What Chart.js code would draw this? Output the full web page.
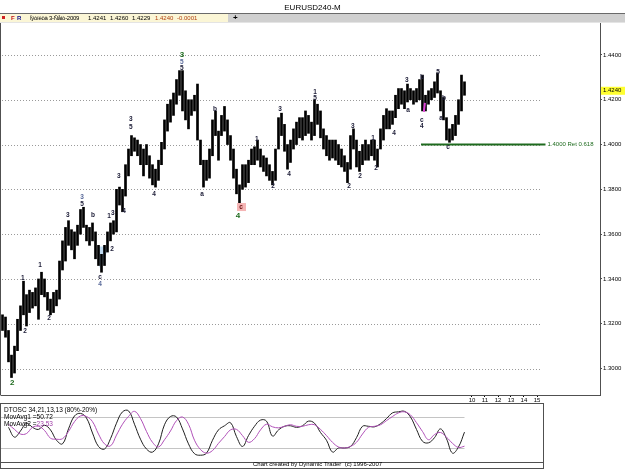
<!DOCTYPE html>
<html>
<head>
<meta charset="utf-8">
<script src="https://cdn.jsdelivr.net/npm/chart.js@4/dist/chart.umd.min.js"></script>
<style>
  body { margin: 0; width: 625px; height: 469px; overflow: hidden; position: relative; background: #fff;
         font-family: "Liberation Sans", Arial, sans-serif; }
  canvas { position: absolute; left: 0; }
  #main { top: 0; }
  #osc { top: 403px; }
  .t { position: absolute; white-space: nowrap; color: #000; }
  #title { left: 0; top: 3px; width: 625px; text-align: center; font-size: 8px; }
  #bar { position: absolute; left: 0; top: 13px; width: 625px; height: 8px; background: #d0d0d0;
         border-top: 1px solid #6a6a6a; border-bottom: 1px solid #e4e4e4; }
  #cream { position: absolute; left: 0; top: 0; width: 228px; height: 8px; background: #fbf6d6; }
  #bar .t { top: 0; font-size: 6px; line-height: 8px; }
  .leg { font-size: 6.5px; line-height: 7px; left: 4px; }
</style>
</head>
<body>
<canvas id="main" width="625" height="403"></canvas>
<canvas id="osc" width="545" height="66"></canvas>

<div class="t" id="title">EURUSD240-M</div>
<div id="bar">
  <div id="cream"></div>
  <div style="position:absolute;left:2px;top:2px;width:3px;height:3px;background:#d02020"></div>
  <span class="t" style="left:11px;color:#c01010;font-weight:bold">F</span>
  <span class="t" style="left:17px;color:#10108a;font-weight:bold">R</span>
  <span class="t" style="left:30px;letter-spacing:-0.3px">Ïÿòíèöà 3-Ñåíò-2009</span>
  <span class="t" style="left:88px">1.4241</span>
  <span class="t" style="left:110px">1.4260</span>
  <span class="t" style="left:132px">1.4229</span>
  <span class="t" style="left:155px;color:#b04010">1.4240</span>
  <span class="t" style="left:177px;color:#b04010">-0.0001</span>
  <span class="t" style="left:233px;font-weight:bold;font-size:8px">+</span>
</div>

<div class="t leg" style="top:406px">DTOSC 34,21,13,13 (80%-20%)</div>
<div class="t leg" style="top:413px">MovAvg1 =50.72</div>
<div class="t leg" style="top:420px">MovAvg2 =<span style="color:#a040a8">23.53</span></div>
<div class="t" style="left:253px;top:461px;font-size:6px">Chart created by Dynamic Trader&nbsp; (c) 1996-2007</div>

<script>
// 240-minute bars (one entry per ~3px column)
const barLows = [
  1.317, 1.314, 1.303, 1.296, 1.298, 1.308, 1.317, 1.324, 1.319, 1.325,
  1.327, 1.328, 1.322, 1.333, 1.332, 1.326, 1.324, 1.325, 1.328, 1.331,
  1.344, 1.348, 1.355, 1.353, 1.349, 1.355, 1.360, 1.363, 1.357, 1.355,
  1.357, 1.349, 1.346, 1.343, 1.346, 1.352, 1.357, 1.360, 1.361, 1.373,
  1.370, 1.377, 1.386, 1.395, 1.397, 1.395, 1.391, 1.386, 1.391, 1.385,
  1.382, 1.381, 1.384, 1.391, 1.398, 1.406, 1.410, 1.413, 1.418, 1.422,
  1.415, 1.411, 1.407, 1.413, 1.415, 1.402, 1.391, 1.381, 1.384, 1.385,
  1.395, 1.404, 1.393, 1.404, 1.406, 1.400, 1.393, 1.385, 1.378, 1.374,
  1.380, 1.381, 1.383, 1.391, 1.391, 1.393, 1.390, 1.388, 1.386, 1.384,
  1.382, 1.384, 1.398, 1.404, 1.397, 1.389, 1.392, 1.398, 1.400, 1.403,
  1.402, 1.404, 1.405, 1.402, 1.404, 1.409, 1.403, 1.398, 1.395, 1.393,
  1.394, 1.393, 1.391, 1.390, 1.388, 1.383, 1.389, 1.398, 1.390, 1.388,
  1.391, 1.393, 1.393, 1.395, 1.393, 1.390, 1.398, 1.402, 1.407, 1.407,
  1.409, 1.412, 1.416, 1.418, 1.416, 1.419, 1.420, 1.418, 1.419, 1.420,
  1.415, 1.415, 1.418, 1.420, 1.421, 1.423, 1.415, 1.411, 1.402, 1.401,
  1.402, 1.404, 1.409, 1.415, 1.422
];
const barHighs = [
  1.324, 1.323, 1.317, 1.306, 1.310, 1.322, 1.328, 1.339, 1.333, 1.335,
  1.334, 1.336, 1.340, 1.343, 1.340, 1.334, 1.331, 1.334, 1.335, 1.348,
  1.357, 1.363, 1.366, 1.362, 1.361, 1.364, 1.371, 1.372, 1.364, 1.363,
  1.365, 1.361, 1.355, 1.351, 1.355, 1.361, 1.365, 1.366, 1.380, 1.381,
  1.380, 1.391, 1.398, 1.404, 1.403, 1.402, 1.400, 1.398, 1.400, 1.395,
  1.391, 1.389, 1.393, 1.401, 1.411, 1.418, 1.420, 1.423, 1.429, 1.433,
  1.433, 1.424, 1.420, 1.420, 1.422, 1.427, 1.402, 1.393, 1.393, 1.398,
  1.411, 1.415, 1.406, 1.413, 1.417, 1.411, 1.404, 1.398, 1.389, 1.382,
  1.391, 1.391, 1.393, 1.398, 1.399, 1.402, 1.398, 1.395, 1.394, 1.391,
  1.388, 1.398, 1.412, 1.414, 1.409, 1.400, 1.402, 1.407, 1.410, 1.412,
  1.412, 1.415, 1.413, 1.410, 1.420, 1.418, 1.415, 1.407, 1.404, 1.402,
  1.402, 1.402, 1.400, 1.398, 1.395, 1.392, 1.404, 1.407, 1.402, 1.397,
  1.400, 1.402, 1.400, 1.402, 1.402, 1.398, 1.407, 1.413, 1.416, 1.415,
  1.415, 1.422, 1.425, 1.425, 1.424, 1.427, 1.425, 1.424, 1.425, 1.429,
  1.431, 1.422, 1.424, 1.425, 1.428, 1.432, 1.424, 1.421, 1.412, 1.407,
  1.409, 1.413, 1.420, 1.431, 1.428
];
const lastClose = 1.4240;

const yTickValues = [1.30, 1.32, 1.34, 1.36, 1.38, 1.40, 1.42, 1.44];
const xTickLabels = ['10', '11', '12', '13', '14', '15'];
const xTickPos = [156.5, 160.8, 165.2, 169.5, 173.8, 178.2];
const gridEnd = 179.8;

// retracement line
const retLevel = 1.4000;
const retFrom = 139.5;
const retTo = 181;
const retText = '1.4000 Ret 0.618';

// wave labels: [bar, price, text, kind]
const waveMarks = [
  [3.2, 1.2936, '2', 'g'], [6.8, 1.3404, '1', 'n'], [7.5, 1.3168, '2', 'n'],
  [12.5, 1.3462, '1', 'n'], [15.5, 1.3226, '2', 'n'], [21.8, 1.3686, '3', 'n'],
  [26.5, 1.3766, '3', 'b'], [26.5, 1.3735, '5', 'n'], [30.2, 1.3686, 'b', 'n'],
  [32.5, 1.3409, 'c', 'n'], [32.5, 1.3378, '4', 'b'], [35.5, 1.3681, '1', 'n'],
  [36.8, 1.3692, '3', 'n'], [36.5, 1.3534, '2', 'n'], [38.8, 1.3860, '3', 'n'],
  [40.5, 1.3704, '4', 'n'], [42.8, 1.4114, '3', 'n'], [42.8, 1.4079, '5', 'n'],
  [50.5, 1.3779, '4', 'n'], [59.8, 1.4400, '3', 'g'], [59.8, 1.4369, '5', 'b'],
  [59.8, 1.4342, '5', 'n'], [66.5, 1.3779, 'a', 'n'], [70.8, 1.4159, 'b', 'n'],
  [79.5, 1.3721, 'c', 'p'], [78.5, 1.3681, '4', 'g'], [84.8, 1.4025, '1', 'n'],
  [90.2, 1.3815, '2', 'n'], [92.5, 1.4159, '3', 'n'], [95.5, 1.3869, '4', 'n'],
  [104.2, 1.4235, '1', 'n'], [104.2, 1.4208, '5', 'n'], [115.5, 1.3815, '2', 'n'],
  [116.8, 1.4083, '3', 'n'], [119.2, 1.3860, '2', 'n'], [123.5, 1.4029, '1', 'n'],
  [124.5, 1.3896, '2', 'n'], [130.5, 1.4052, '4', 'n'], [134.8, 1.4288, '3', 'n'],
  [135.2, 1.4154, 'a', 'n'], [139.8, 1.4302, 'b', 'n'], [139.8, 1.4110, 'c', 'n'],
  [139.8, 1.4083, '4', 'n'], [145.2, 1.4324, '5', 'n'], [147.2, 1.4208, 'b', 'n'],
  [146.2, 1.4119, 'a', 'n'], [148.5, 1.3989, 'c', 'n']
];
const bluePatch = [[32, 1.3545], [35.3, 1.3545], [33.6, 1.3470], [32.3, 1.3450]];
const pinkArrow = [[140.8, 1.4186], [140.8, 1.4146]];

// DTOSC panel, one value every 2 bars starting at bar 2
const oscMain = [
  60, 41, 53, 68, 60, 56, 64, 55, 35, 28,
  57, 82, 87, 78, 49, 23, 18, 38, 68, 90,
  92, 66, 37, 18, 12, 28, 65, 81, 80, 57,
  28, 9, 6, 10, 35, 55, 63, 69, 42, 23,
  44, 62, 74, 72, 43, 55, 62, 63, 60, 63,
  72, 68, 50, 35, 12, 20, 20, 23, 40, 62,
  62, 61, 67, 77, 88, 90, 91, 80, 56, 33,
  30, 40, 57, 38, 10, 22, 50.7
];
const oscSignal = [
  66, 56, 47, 48, 60, 62, 54, 39, 37, 38,
  52, 71, 82, 81, 71, 47, 28, 24, 45, 66,
  81, 91, 77, 52, 31, 22, 36, 53, 73, 80,
  66, 35, 17, 10, 15, 29, 42, 55, 56, 44,
  31, 38, 55, 66, 61, 59, 62, 65, 62, 62,
  65, 65, 56, 44, 31, 22, 20, 23, 31, 47,
  60, 62, 65, 73, 81, 88, 90, 84, 69, 52,
  36, 46, 50, 41, 29, 21, 23.5
];
const oscLevels = [80, 20];

const FONT = '"Liberation Sans", Arial, sans-serif';

const mainDecor = {
  id: 'mainDecor',
  beforeDatasetsDraw(chart) {
    const { ctx, chartArea, scales: { x, y } } = chart;
    ctx.save();
    // dotted price grid
    ctx.strokeStyle = '#9a9a9a';
    ctx.lineWidth = 1;
    ctx.setLineDash([1, 2]);
    yTickValues.forEach(v => {
      const py = Math.round(y.getPixelForValue(v)) + 0.5;
      ctx.beginPath();
      ctx.moveTo(chartArea.left + 1, py);
      ctx.lineTo(x.getPixelForValue(gridEnd), py);
      ctx.stroke();
    });
    ctx.setLineDash([]);
    // light blue shaded area
    ctx.fillStyle = 'rgba(170,205,235,0.75)';
    ctx.beginPath();
    bluePatch.forEach(([i, p], k) => {
      const px = x.getPixelForValue(i), py = y.getPixelForValue(p);
      k ? ctx.lineTo(px, py) : ctx.moveTo(px, py);
    });
    ctx.closePath();
    ctx.fill();
    ctx.restore();
  },
  afterDatasetsDraw(chart) {
    const { ctx, chartArea, scales: { x, y } } = chart;
    ctx.save();
    // retracement line
    const ry = y.getPixelForValue(retLevel);
    ctx.strokeStyle = '#1e6b1e';
    ctx.lineWidth = 2;
    ctx.beginPath();
    ctx.moveTo(x.getPixelForValue(retFrom), ry);
    ctx.lineTo(x.getPixelForValue(retTo), ry);
    ctx.stroke();
    ctx.fillStyle = '#1e6b1e';
    ctx.font = '6px ' + FONT;
    ctx.textBaseline = 'middle';
    ctx.fillText(retText, x.getPixelForValue(retTo) + 2, ry);

    // pink arrow
    ctx.strokeStyle = '#e040d8';
    ctx.lineWidth = 2;
    ctx.beginPath();
    ctx.moveTo(x.getPixelForValue(pinkArrow[0][0]), y.getPixelForValue(pinkArrow[0][1]));
    ctx.lineTo(x.getPixelForValue(pinkArrow[1][0]) - 1, y.getPixelForValue(pinkArrow[1][1]));
    ctx.stroke();

    // wave labels
    ctx.textAlign = 'center';
    waveMarks.forEach(([i, p, t, kind]) => {
      const px = x.getPixelForValue(i), py = y.getPixelForValue(p);
      if (kind === 'g') {
        ctx.font = 'bold 8px ' + FONT;
        ctx.fillStyle = '#1d6b1d';
      } else if (kind === 'p') {
        ctx.fillStyle = '#f5b5b5';
        ctx.fillRect(px - 4, py - 4, 9, 8);
        ctx.font = 'bold 6.5px ' + FONT;
        ctx.fillStyle = '#6a1010';
      } else {
        ctx.font = 'bold 6.5px ' + FONT;
        ctx.fillStyle = kind === 'b' ? '#5a6a9a' : '#20203a';
      }
      ctx.fillText(t, px, py);
    });

    // left border
    ctx.strokeStyle = '#505050';
    ctx.lineWidth = 1;
    ctx.beginPath();
    ctx.moveTo(0.5, chartArea.top);
    ctx.lineTo(0.5, chartArea.bottom + 0.5);
    ctx.stroke();
    ctx.restore();
  },
  afterDraw(chart) {
    const { ctx, chartArea, scales: { y } } = chart;
    const py = y.getPixelForValue(lastClose);
    ctx.save();
    ctx.fillStyle = '#ffff30';
    ctx.fillRect(chartArea.right + 1, py - 4, 24, 8);
    ctx.fillStyle = '#000';
    ctx.font = '6px ' + FONT;
    ctx.textBaseline = 'middle';
    ctx.fillText(lastClose.toFixed(4), chartArea.right + 3, py);
    ctx.restore();
  }
};

new Chart(document.getElementById('main'), {
  type: 'bar',
  data: {
    datasets: [{
      data: barLows.map((lo, i) => ({ x: i, y: [lo, barHighs[i]] })),
      backgroundColor: '#000',
      borderWidth: 0,
      barThickness: 2
    }]
  },
  options: {
    responsive: false,
    animation: false,
    layout: { padding: { top: 22, left: 1, right: 0, bottom: 0 } },
    plugins: { legend: { display: false }, tooltip: { enabled: false } },
    scales: {
      x: {
        type: 'linear',
        min: -0.5,
        max: 199.17,
        offset: false,
        afterBuildTicks: s => { s.ticks = xTickPos.map(v => ({ value: v })); },
        afterFit: s => { s.height = 8; },
        ticks: {
          callback: (v, i) => xTickLabels[i],
          font: { size: 6, family: FONT },
          color: '#000',
          padding: 0,
          maxRotation: 0,
          autoSkip: false
        },
        grid: { drawOnChartArea: false, offset: false, tickLength: 2, color: '#000' },
        border: { color: '#505050' }
      },
      y: {
        position: 'right',
        min: 1.2882,
        max: 1.4547,
        afterBuildTicks: s => { s.ticks = yTickValues.map(v => ({ value: v })); },
        afterFit: s => { s.width = 25; },
        ticks: {
          callback: v => v.toFixed(4),
          font: { size: 6, family: FONT },
          color: '#000',
          padding: 1
        },
        grid: { drawOnChartArea: false, tickLength: 2, color: '#505050' },
        border: { color: '#505050' }
      }
    }
  },
  plugins: [mainDecor]
});

const oscDecor = {
  id: 'oscDecor',
  beforeDatasetsDraw(chart) {
    const { ctx, chartArea, scales: { x, y } } = chart;
    ctx.save();
    ctx.strokeStyle = '#c4c4c4';
    ctx.lineWidth = 1;
    const end = x.getPixelForValue(2 + 2 * (oscMain.length - 1));
    oscLevels.forEach(v => {
      const py = Math.round(y.getPixelForValue(v)) + 0.5;
      ctx.beginPath();
      ctx.moveTo(chartArea.left, py);
      ctx.lineTo(end, py);
      ctx.stroke();
    });
    ctx.restore();
  },
  afterDraw(chart) {
    const { ctx } = chart;
    ctx.save();
    ctx.strokeStyle = '#505050';
    ctx.lineWidth = 1;
    ctx.strokeRect(0.5, 0.5, 543, 65);
    ctx.beginPath();
    ctx.moveTo(0, 59.5);
    ctx.lineTo(544, 59.5);
    ctx.stroke();
    ctx.restore();
  }
};

new Chart(document.getElementById('osc'), {
  type: 'line',
  data: {
    datasets: [
      {
        data: oscSignal.map((v, k) => ({ x: 2 + 2 * k, y: v })),
        borderColor: '#b050b8',
        borderWidth: 1,
        pointRadius: 0,
        tension: 0.4
      },
      {
        data: oscMain.map((v, k) => ({ x: 2 + 2 * k, y: v })),
        borderColor: '#202020',
        borderWidth: 1,
        pointRadius: 0,
        tension: 0.4
      }
    ]
  },
  options: {
    responsive: false,
    animation: false,
    layout: { padding: { top: 1, left: 1, right: 2, bottom: 8 } },
    plugins: { legend: { display: false }, tooltip: { enabled: false } },
    scales: {
      x: { type: 'linear', min: -0.5, max: 180.17, display: false },
      y: { min: -5.2, max: 105.2, display: false }
    }
  },
  plugins: [oscDecor]
});
</script>
</body>
</html>
